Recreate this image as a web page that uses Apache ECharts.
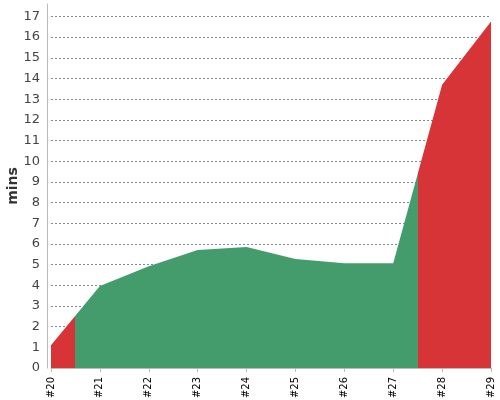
<!DOCTYPE html>
<html>
<head>
<meta charset="utf-8">
<script src="https://cdn.jsdelivr.net/npm/echarts@6/dist/echarts.min.js"></script>
<style>html,body{margin:0;padding:0;background:#fff}#c{width:500px;height:400px}</style>
</head>
<body>
<div id="c"></div>
<script>
var builds = [20, 21, 22, 23, 24, 25, 26, 27, 28, 29];
var minutes = [1.1, 3.96, 4.92, 5.7, 5.85, 5.27, 5.07, 5.07, 13.7, 16.75];
var redBefore = 20.5;
var redAfter = 27.5;
var yTicksMax = 17;

var data = builds.map(function (b, i) { return [b, minutes[i]]; });
var chart = echarts.init(document.getElementById('c'));
chart.setOption({
  animation: false,
  grid: { left: 51, right: 9, top: 4, bottom: 32, containLabel: false, outerBoundsMode: 'none' },
  xAxis: {
    type: 'value', min: 20, max: 29, interval: 1,
    offset: 4,
    axisLine: { show: true, lineStyle: { color: '#bbb', width: 1 } },
    axisTick: { show: true, length: 4, lineStyle: { color: '#bbb' } },
    splitLine: { show: false },
    axisLabel: { rotate: 90, fontSize: 10, color: '#000', margin: 5, fontFamily: 'DejaVu Sans',
      formatter: function (v) { return '#' + v; } }
  },
  yAxis: {
    type: 'value', min: 0, max: 17.6, interval: 1,
    offset: 4,
    name: 'mins', nameLocation: 'middle', nameGap: 27, nameRotate: 90, nameMoveOverlap: false,
    nameTextStyle: { fontSize: 14, fontWeight: 'bold', color: '#333', fontFamily: 'DejaVu Sans' },
    axisLine: { show: true, lineStyle: { color: '#bbb', width: 1 } },
    axisTick: { show: false },
    splitLine: { show: true, showMaxLine: false, lineStyle: { color: '#888', type: [2, 2], width: 1 } },
    axisLabel: { fontSize: 13, color: '#444', margin: 7, fontFamily: 'DejaVu Sans', showMaxLabel: false,
      formatter: function (v) { return v <= yTicksMax ? String(v) : ''; } }
  },
  visualMap: {
    show: false, type: 'piecewise', dimension: 0, seriesIndex: 0,
    pieces: [
      { lt: redBefore, color: '#d63437' },
      { gte: redBefore, lte: redAfter, color: '#449c6c' },
      { gt: redAfter, color: '#d63437' }
    ]
  },
  series: [{
    type: 'line', data: data, symbol: 'none', smooth: false,
    lineStyle: { width: 0 },
    areaStyle: { opacity: 1 }
  }]
});
</script>
</body>
</html>
